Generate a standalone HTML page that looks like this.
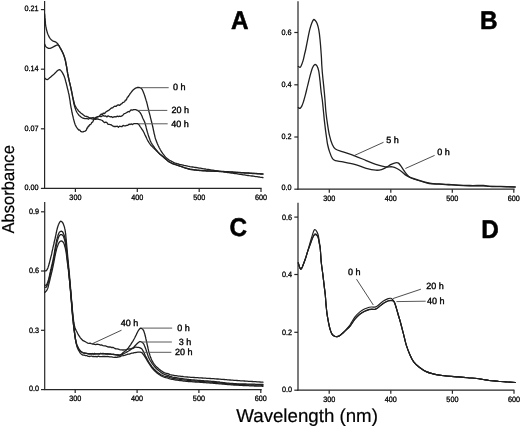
<!DOCTYPE html>
<html><head><meta charset="utf-8"><style>
html,body{margin:0;padding:0;background:#fff;}
svg{display:block;will-change:transform;}
text{font-family:"Liberation Sans",sans-serif;fill:#000;text-rendering:geometricPrecision;}
.t{stroke:#000;stroke-width:0.3px;}
.l{stroke:#000;stroke-width:0.35px;}
.ax{stroke:#000;stroke-width:0.2px;}
</style></head><body>
<svg width="520" height="427" viewBox="0 0 520 427">
<rect width="520" height="427" fill="#fff"/>
<line x1="44.6" y1="1" x2="44.6" y2="188.9" stroke="#262626" stroke-width="1.2"/>
<line x1="44.1" y1="188.4" x2="261.6" y2="188.4" stroke="#262626" stroke-width="1.2"/>
<line x1="40.9" y1="188.4" x2="44.6" y2="188.4" stroke="#262626" stroke-width="1.2"/>
<text class="t" transform="translate(38.50,190.20) scale(0.93,1)" font-size="7.8" text-anchor="end" font-weight="normal">0.00</text>
<line x1="40.9" y1="128.8" x2="44.6" y2="128.8" stroke="#262626" stroke-width="1.2"/>
<text class="t" transform="translate(38.50,130.50) scale(0.93,1)" font-size="7.8" text-anchor="end" font-weight="normal">0.07</text>
<line x1="40.9" y1="69.2" x2="44.6" y2="69.2" stroke="#262626" stroke-width="1.2"/>
<text class="t" transform="translate(38.50,70.90) scale(0.93,1)" font-size="7.8" text-anchor="end" font-weight="normal">0.14</text>
<line x1="40.9" y1="9.6" x2="44.6" y2="9.6" stroke="#262626" stroke-width="1.2"/>
<text class="t" transform="translate(38.50,11.25) scale(0.93,1)" font-size="7.8" text-anchor="end" font-weight="normal">0.21</text>
<line x1="75.4" y1="188.4" x2="75.4" y2="191.9" stroke="#262626" stroke-width="1.2"/>
<text class="t" transform="translate(75.40,199.70) scale(0.93,1)" font-size="7.8" text-anchor="middle" font-weight="normal">300</text>
<line x1="137.3" y1="188.4" x2="137.3" y2="191.9" stroke="#262626" stroke-width="1.2"/>
<text class="t" transform="translate(137.30,199.70) scale(0.93,1)" font-size="7.8" text-anchor="middle" font-weight="normal">400</text>
<line x1="199.2" y1="188.4" x2="199.2" y2="191.9" stroke="#262626" stroke-width="1.2"/>
<text class="t" transform="translate(199.20,199.70) scale(0.93,1)" font-size="7.8" text-anchor="middle" font-weight="normal">500</text>
<line x1="261.0" y1="188.4" x2="261.0" y2="191.9" stroke="#262626" stroke-width="1.2"/>
<text class="t" transform="translate(261.00,199.70) scale(0.93,1)" font-size="7.8" text-anchor="middle" font-weight="normal">600</text>
<line x1="298.0" y1="1.2" x2="298.0" y2="189.7" stroke="#262626" stroke-width="1.2"/>
<line x1="297.5" y1="189.2" x2="514.6" y2="189.2" stroke="#262626" stroke-width="1.2"/>
<line x1="294.3" y1="189.2" x2="298.0" y2="189.2" stroke="#262626" stroke-width="1.2"/>
<text class="t" transform="translate(291.60,190.40) scale(0.93,1)" font-size="7.8" text-anchor="end" font-weight="normal">0.0</text>
<line x1="294.3" y1="137.0" x2="298.0" y2="137.0" stroke="#262626" stroke-width="1.2"/>
<text class="t" transform="translate(291.60,139.15) scale(0.93,1)" font-size="7.8" text-anchor="end" font-weight="normal">0.2</text>
<line x1="294.3" y1="84.8" x2="298.0" y2="84.8" stroke="#262626" stroke-width="1.2"/>
<text class="t" transform="translate(291.60,87.00) scale(0.93,1)" font-size="7.8" text-anchor="end" font-weight="normal">0.4</text>
<line x1="294.3" y1="32.5" x2="298.0" y2="32.5" stroke="#262626" stroke-width="1.2"/>
<text class="t" transform="translate(291.60,34.95) scale(0.93,1)" font-size="7.8" text-anchor="end" font-weight="normal">0.6</text>
<line x1="329.3" y1="189.2" x2="329.3" y2="192.7" stroke="#262626" stroke-width="1.2"/>
<text class="t" transform="translate(329.30,200.50) scale(0.93,1)" font-size="7.8" text-anchor="middle" font-weight="normal">300</text>
<line x1="390.8" y1="189.2" x2="390.8" y2="192.7" stroke="#262626" stroke-width="1.2"/>
<text class="t" transform="translate(390.80,200.50) scale(0.93,1)" font-size="7.8" text-anchor="middle" font-weight="normal">400</text>
<line x1="452.3" y1="189.2" x2="452.3" y2="192.7" stroke="#262626" stroke-width="1.2"/>
<text class="t" transform="translate(452.30,200.50) scale(0.93,1)" font-size="7.8" text-anchor="middle" font-weight="normal">500</text>
<line x1="513.8" y1="189.2" x2="513.8" y2="192.7" stroke="#262626" stroke-width="1.2"/>
<text class="t" transform="translate(513.80,200.50) scale(0.93,1)" font-size="7.8" text-anchor="middle" font-weight="normal">600</text>
<line x1="44.7" y1="202" x2="44.7" y2="390.1" stroke="#262626" stroke-width="1.2"/>
<line x1="44.2" y1="389.6" x2="261.7" y2="389.6" stroke="#262626" stroke-width="1.2"/>
<line x1="41.0" y1="389.6" x2="44.7" y2="389.6" stroke="#262626" stroke-width="1.2"/>
<text class="t" transform="translate(39.10,391.05) scale(0.93,1)" font-size="7.8" text-anchor="end" font-weight="normal">0.0</text>
<line x1="41.0" y1="330.3" x2="44.7" y2="330.3" stroke="#262626" stroke-width="1.2"/>
<text class="t" transform="translate(39.10,332.65) scale(0.93,1)" font-size="7.8" text-anchor="end" font-weight="normal">0.3</text>
<line x1="41.0" y1="271.0" x2="44.7" y2="271.0" stroke="#262626" stroke-width="1.2"/>
<text class="t" transform="translate(39.10,273.15) scale(0.93,1)" font-size="7.8" text-anchor="end" font-weight="normal">0.6</text>
<line x1="41.0" y1="211.8" x2="44.7" y2="211.8" stroke="#262626" stroke-width="1.2"/>
<text class="t" transform="translate(39.10,213.75) scale(0.93,1)" font-size="7.8" text-anchor="end" font-weight="normal">0.9</text>
<line x1="75.2" y1="389.6" x2="75.2" y2="393.1" stroke="#262626" stroke-width="1.2"/>
<text class="t" transform="translate(75.20,400.90) scale(0.93,1)" font-size="7.8" text-anchor="middle" font-weight="normal">300</text>
<line x1="137.1" y1="389.6" x2="137.1" y2="393.1" stroke="#262626" stroke-width="1.2"/>
<text class="t" transform="translate(137.10,400.90) scale(0.93,1)" font-size="7.8" text-anchor="middle" font-weight="normal">400</text>
<line x1="198.9" y1="389.6" x2="198.9" y2="393.1" stroke="#262626" stroke-width="1.2"/>
<text class="t" transform="translate(198.90,400.90) scale(0.93,1)" font-size="7.8" text-anchor="middle" font-weight="normal">500</text>
<line x1="260.8" y1="389.6" x2="260.8" y2="393.1" stroke="#262626" stroke-width="1.2"/>
<text class="t" transform="translate(260.80,400.90) scale(0.93,1)" font-size="7.8" text-anchor="middle" font-weight="normal">600</text>
<line x1="298.0" y1="202.8" x2="298.0" y2="390.7" stroke="#262626" stroke-width="1.2"/>
<line x1="297.5" y1="390.2" x2="514.4" y2="390.2" stroke="#262626" stroke-width="1.2"/>
<line x1="294.3" y1="390.2" x2="298.0" y2="390.2" stroke="#262626" stroke-width="1.2"/>
<text class="t" transform="translate(292.00,392.00) scale(0.93,1)" font-size="7.8" text-anchor="end" font-weight="normal">0.0</text>
<line x1="294.3" y1="332.3" x2="298.0" y2="332.3" stroke="#262626" stroke-width="1.2"/>
<text class="t" transform="translate(292.00,334.65) scale(0.93,1)" font-size="7.8" text-anchor="end" font-weight="normal">0.2</text>
<line x1="294.3" y1="274.5" x2="298.0" y2="274.5" stroke="#262626" stroke-width="1.2"/>
<text class="t" transform="translate(292.00,276.85) scale(0.93,1)" font-size="7.8" text-anchor="end" font-weight="normal">0.4</text>
<line x1="294.3" y1="217.1" x2="298.0" y2="217.1" stroke="#262626" stroke-width="1.2"/>
<text class="t" transform="translate(292.00,219.50) scale(0.93,1)" font-size="7.8" text-anchor="end" font-weight="normal">0.6</text>
<line x1="329.2" y1="390.2" x2="329.2" y2="393.7" stroke="#262626" stroke-width="1.2"/>
<text class="t" transform="translate(329.20,401.50) scale(0.93,1)" font-size="7.8" text-anchor="middle" font-weight="normal">300</text>
<line x1="390.8" y1="390.2" x2="390.8" y2="393.7" stroke="#262626" stroke-width="1.2"/>
<text class="t" transform="translate(390.80,401.50) scale(0.93,1)" font-size="7.8" text-anchor="middle" font-weight="normal">400</text>
<line x1="452.4" y1="390.2" x2="452.4" y2="393.7" stroke="#262626" stroke-width="1.2"/>
<text class="t" transform="translate(452.40,401.50) scale(0.93,1)" font-size="7.8" text-anchor="middle" font-weight="normal">500</text>
<line x1="514.0" y1="390.2" x2="514.0" y2="393.7" stroke="#262626" stroke-width="1.2"/>
<text class="t" transform="translate(514.00,401.50) scale(0.93,1)" font-size="7.8" text-anchor="middle" font-weight="normal">600</text>
<text transform="translate(231.0,28.6) scale(0.95,1)" font-size="25.6" font-weight="bold" stroke="#000" stroke-width="0.55" stroke-linejoin="round">A</text>
<text transform="translate(480.1,29.3) scale(0.95,1)" font-size="25.6" font-weight="bold" stroke="#000" stroke-width="0.55" stroke-linejoin="round">B</text>
<text transform="translate(229.5,236.4) scale(0.95,1)" font-size="25.6" font-weight="bold" stroke="#000" stroke-width="0.55" stroke-linejoin="round">C</text>
<text transform="translate(481.2,237.6) scale(0.95,1)" font-size="25.6" font-weight="bold" stroke="#000" stroke-width="0.55" stroke-linejoin="round">D</text>
<text x="0" y="0" font-size="17.2" class="ax" transform="translate(14.0,233.5) rotate(-90) scale(0.963,1)">Absorbance</text>
<text x="236.3" y="422.0" font-size="18.7" text-anchor="start" font-weight="normal" class="ax">Wavelength (nm)</text>
<path d="M44.6,78.1 L46.0,79.3 L47.6,79.5 L48.4,79.0 L49.3,78.1 L50.4,77.2 L51.3,76.4 L52.3,75.5 L53.3,74.7 L54.2,73.9 L55.4,72.7 L56.5,71.6 L57.4,70.8 L58.4,70.0 L59.3,69.7 L60.5,70.2 L61.7,71.6 L62.2,72.4 L62.8,73.4 L63.4,74.6 L64.0,75.8 L64.5,77.2 L64.9,78.2 L65.2,79.3 L65.5,80.5 L65.8,81.7 L66.2,83.0 L66.5,84.3 L66.8,85.6 L67.1,86.7 L67.3,87.8 L67.6,88.9 L67.9,90.0 L68.2,91.2 L68.4,92.4 L68.7,93.5 L69.0,94.7 L69.2,95.9 L69.4,97.1 L69.6,98.3 L69.8,99.5 L70.0,100.7 L70.2,101.9 L70.3,103.1 L70.5,104.3 L70.7,105.5 L70.9,106.6 L71.1,107.8 L71.4,109.0 L71.6,110.2 L71.8,111.4 L72.0,112.5 L72.3,113.7 L72.5,114.8 L72.8,115.9 L73.1,117.0 L73.3,118.2 L73.6,119.3 L73.9,120.4 L74.2,121.5 L74.5,122.6 L74.8,123.5 L75.1,124.4 L75.8,125.9 L76.5,127.1 L77.2,128.1 L77.9,129.0 L78.8,130.1 L79.8,130.0 L80.7,131.3 L81.9,131.8 L83.1,131.8 L84.1,131.4 L85.3,131.1 L86.4,130.1 L87.0,128.0 L87.6,128.0 L88.2,126.2 L88.9,126.3 L89.6,124.7 L90.3,124.7 L91.1,123.9 L91.9,122.3 L92.7,122.1 L93.5,120.2 L94.2,119.2 L95.4,119.0 L96.5,117.5 L97.7,117.0 L98.5,116.7 L99.4,116.3 L100.3,114.9 L101.3,114.0 L102.3,114.6 L103.2,113.1 L104.2,113.6 L105.2,112.9 L106.2,111.6 L107.2,111.1 L108.1,110.6 L109.1,110.1 L110.0,109.3 L110.9,108.4 L111.8,107.9 L112.7,107.8 L113.9,106.6 L115.0,106.2 L116.2,106.3 L117.3,105.2 L118.5,104.9 L119.7,105.4 L120.8,104.2 L121.9,103.7 L122.9,102.3 L123.7,102.3 L124.6,101.8 L125.4,100.1 L126.1,100.1 L126.7,99.1 L127.4,97.1 L128.1,96.9 L128.8,95.6 L129.4,94.8 L130.1,93.7 L130.8,92.8 L131.5,91.9 L132.2,91.0 L132.8,90.3 L134.0,89.2 L135.2,88.4 L136.3,87.8 L137.5,87.5 L138.7,87.5 L139.7,87.6 L140.8,88.0 L141.7,88.8 L142.3,89.7 L142.9,91.0 L143.5,92.4 L143.9,93.4 L144.3,94.6 L144.7,95.8 L145.1,97.0 L145.4,98.1 L145.8,99.3 L146.1,100.4 L146.5,101.5 L146.8,102.7 L147.1,103.8 L147.4,104.9 L147.6,106.1 L147.9,107.2 L148.2,108.4 L148.5,109.5 L148.8,110.6 L149.0,111.8 L149.3,112.9 L149.6,114.0 L149.9,115.1 L150.2,116.2 L150.4,117.3 L150.7,118.4 L151.0,119.6 L151.3,120.8 L151.6,122.0 L151.9,123.2 L152.2,124.4 L152.5,125.7 L152.7,126.8 L153.0,127.8 L153.2,128.9 L153.4,130.0 L153.7,131.1 L153.9,132.2 L154.1,133.3 L154.4,134.4 L154.7,135.5 L154.9,136.6 L155.2,137.7 L155.5,138.7 L155.9,139.9 L156.3,141.1 L156.8,142.2 L157.2,143.3 L157.7,144.4 L158.2,145.5 L158.7,146.5 L159.1,147.5 L159.7,148.5 L160.2,149.5 L160.8,150.5 L161.3,151.5 L162.0,152.4 L162.6,153.3 L163.2,154.2 L164.0,155.2 L164.8,156.2 L165.6,157.1 L166.5,158.0 L167.5,158.8 L168.5,159.5 L169.5,160.2 L170.6,160.8 L171.7,161.4 L172.9,162.0 L174.0,162.6 L175.3,163.1 L176.3,163.4 L177.3,163.7 L178.4,164.0 L179.5,164.3 L180.9,164.6 L181.9,164.8 L183.0,165.1 L184.1,165.4 L185.4,165.6 L186.6,165.9 L187.8,166.2 L188.9,166.4 L190.0,166.6 L191.3,166.8 L192.5,167.0 L193.6,167.2 L194.7,167.4 L195.8,167.5 L197.0,167.7 L198.1,167.9 L199.2,168.1 L200.3,168.2 L201.4,168.4 L202.6,168.6 L203.8,168.8 L205.0,169.0 L206.1,169.2 L207.2,169.3 L208.3,169.5 L209.5,169.7 L210.7,169.9 L211.8,170.1 L212.9,170.2 L214.0,170.4 L215.1,170.6 L216.1,170.7 L217.0,170.8 L217.9,171.0 L219.0,171.2 L220.3,171.4 L222.0,171.6 L222.8,171.7 L223.7,171.9 L224.7,172.0 L225.7,172.2 L226.7,172.3 L227.8,172.5 L228.9,172.6 L230.1,172.8 L231.2,173.0 L232.4,173.2 L233.7,173.4 L234.9,173.5 L236.2,173.7 L237.4,173.9 L238.7,174.1 L240.0,174.3 L241.0,174.4 L242.1,174.6 L243.2,174.8 L244.4,174.9 L245.6,175.1 L246.9,175.3 L248.1,175.5 L249.4,175.7 L250.7,175.8 L252.0,176.0 L253.3,176.2 L254.5,176.4 L255.7,176.6 L256.9,176.7 L258.0,176.9 L259.0,177.0 L260.0,177.2 L260.9,177.3 L261.7,177.4 L262.4,177.5 L263.0,177.6" fill="none" stroke="#202020" stroke-width="1.3" stroke-linejoin="round" stroke-linecap="round"/>
<path d="M44.6,14.0 L44.7,14.8 L44.8,16.0 L44.9,17.4 L45.1,18.8 L45.2,20.0 L45.3,21.3 L45.4,22.5 L45.4,23.7 L45.6,25.0 L45.8,26.2 L46.1,27.5 L46.3,28.8 L46.6,30.0 L46.9,31.1 L47.3,32.5 L47.6,33.5 L48.1,34.7 L48.6,35.8 L49.1,36.9 L49.8,38.0 L50.4,38.9 L51.3,39.8 L52.2,40.5 L53.2,41.1 L54.7,41.7 L56.0,42.2 L56.9,42.9 L57.9,44.0 L58.5,45.0 L59.3,46.2 L60.0,47.5 L60.7,48.7 L61.3,49.9 L62.0,51.0 L62.5,52.2 L63.1,53.4 L63.5,54.4 L63.9,55.5 L64.3,56.6 L64.7,57.8 L65.0,59.0 L65.3,60.0 L65.5,61.0 L65.7,62.0 L65.9,63.1 L66.1,64.3 L66.4,65.6 L66.6,66.6 L66.8,67.7 L66.9,68.8 L67.1,69.9 L67.3,71.2 L67.5,72.4 L67.7,73.7 L68.0,74.9 L68.2,76.2 L68.4,77.3 L68.7,78.3 L68.9,79.4 L69.2,80.6 L69.4,81.7 L69.7,82.8 L70.0,84.0 L70.2,85.1 L70.5,86.2 L70.8,87.3 L71.0,88.4 L71.3,89.6 L71.5,90.8 L71.8,92.0 L72.0,93.2 L72.3,94.4 L72.5,95.6 L72.7,96.7 L73.0,97.8 L73.2,98.8 L73.4,99.7 L73.8,101.2 L74.0,102.5 L74.3,103.5 L74.6,104.5 L75.1,105.6 L75.6,106.6 L76.2,107.6 L76.8,108.5 L77.5,109.5 L78.2,110.4 L78.9,111.2 L79.8,112.1 L80.8,113.0 L81.8,113.7 L82.8,114.4 L83.5,115.0 L85.0,116.2 L85.9,116.3 L87.0,116.5 L88.3,117.1 L89.6,118.3 L90.8,117.9 L91.9,117.9 L93.1,117.5 L94.2,118.5 L95.4,117.6 L96.5,117.1 L97.7,116.7 L98.8,116.4 L100.0,116.3 L101.1,116.7 L102.3,115.8 L103.5,115.6 L104.6,116.2 L105.8,115.9 L106.9,116.9 L108.1,115.8 L109.2,116.4 L110.4,116.9 L111.5,116.6 L112.7,117.5 L113.8,116.9 L115.0,116.6 L116.1,116.8 L117.3,116.2 L118.4,116.6 L119.6,116.1 L120.8,116.5 L121.9,115.9 L123.1,114.9 L124.2,113.6 L125.4,113.3 L126.4,112.7 L127.4,112.1 L128.4,111.5 L129.4,111.8 L130.4,110.3 L131.2,109.9 L132.5,110.2 L133.6,109.7 L134.6,109.6 L135.7,109.7 L136.8,110.1 L137.9,110.6 L138.9,111.4 L139.9,112.4 L140.7,113.5 L141.2,114.5 L141.7,115.5 L142.2,116.6 L142.6,117.7 L143.2,119.0 L143.8,120.2 L144.4,121.5 L144.9,122.8 L145.3,124.0 L145.7,125.6 L146.0,126.6 L146.2,127.7 L146.5,128.8 L146.8,130.0 L147.1,131.1 L147.4,132.2 L147.8,133.4 L148.1,134.6 L148.5,135.7 L148.8,136.8 L149.2,137.8 L149.7,139.1 L150.1,140.3 L150.6,141.4 L151.1,142.5 L151.7,143.5 L152.2,144.4 L152.9,145.3 L153.5,146.2 L154.2,147.1 L154.8,148.1 L155.6,149.1 L156.3,150.0 L157.1,150.9 L157.9,151.9 L158.7,152.8 L159.6,153.7 L160.5,154.5 L161.5,155.3 L162.4,156.1 L163.3,156.8 L164.4,157.8 L165.5,158.7 L166.5,159.6 L167.4,160.4 L168.4,161.2 L169.5,162.0 L170.6,162.5 L171.7,163.1 L173.0,163.6 L174.4,164.1 L175.4,164.5 L176.4,164.8 L177.4,165.2 L178.5,165.5 L179.6,165.9 L180.9,166.3 L181.9,166.6 L182.9,167.0 L184.0,167.4 L185.1,167.8 L186.3,168.1 L187.5,168.5 L188.7,168.8 L190.0,169.1 L191.1,169.3 L192.2,169.5 L193.4,169.7 L194.6,169.8 L195.9,169.9 L197.1,170.1 L198.4,170.2 L199.6,170.3 L200.8,170.4 L201.9,170.5 L203.1,170.6 L204.3,170.7 L205.4,170.7 L206.5,170.8 L207.6,170.8 L208.7,170.9 L209.8,170.9 L210.9,171.0 L212.0,171.0 L213.1,171.0 L214.1,171.1 L215.0,171.1 L216.0,171.1 L217.0,171.2 L218.1,171.2 L219.2,171.3 L220.5,171.3 L222.0,171.4 L222.9,171.4 L223.8,171.5 L224.8,171.6 L225.8,171.6 L226.9,171.7 L227.9,171.7 L229.1,171.8 L230.2,171.9 L231.3,172.0 L232.5,172.0 L233.7,172.1 L235.0,172.2 L236.2,172.3 L237.5,172.3 L238.7,172.4 L240.0,172.5 L241.1,172.6 L242.2,172.6 L243.4,172.7 L244.6,172.8 L245.9,172.9 L247.3,172.9 L248.6,173.0 L249.9,173.1 L251.3,173.2 L252.6,173.3 L253.9,173.3 L255.2,173.4 L256.5,173.5 L257.6,173.6 L258.8,173.6 L259.8,173.7 L260.7,173.8 L261.6,173.8 L262.4,173.9 L263.0,173.9" fill="none" stroke="#202020" stroke-width="1.3" stroke-linejoin="round" stroke-linecap="round"/>
<path d="M44.6,44.0 L45.0,45.1 L45.7,46.4 L46.5,47.2 L47.6,47.9 L48.6,48.3 L50.0,48.3 L51.4,47.8 L52.8,47.2 L54.2,46.4 L55.7,45.6 L57.0,45.0 L58.5,45.2 L59.2,46.1 L59.9,47.5 L60.7,48.9 L61.3,50.0 L61.9,51.1 L62.5,52.3 L63.1,53.6 L63.5,54.6 L63.9,55.7 L64.3,56.8 L64.7,58.0 L65.0,59.2 L65.3,60.2 L65.5,61.2 L65.7,62.2 L65.9,63.3 L66.1,64.5 L66.4,65.8 L66.6,66.8 L66.8,67.9 L66.9,69.0 L67.1,70.1 L67.3,71.4 L67.5,72.6 L67.7,73.9 L68.0,75.1 L68.2,76.4 L68.4,77.5 L68.7,78.5 L68.9,79.6 L69.2,80.8 L69.4,81.9 L69.7,83.0 L70.0,84.2 L70.3,85.3 L70.5,86.4 L70.8,87.5 L71.0,88.6 L71.2,89.8 L71.5,91.0 L71.7,92.2 L72.0,93.5 L72.2,94.7 L72.4,95.9 L72.6,97.0 L72.8,98.1 L73.0,99.1 L73.2,100.0 L73.5,101.5 L73.7,102.8 L73.9,103.8 L74.2,104.9 L74.5,106.0 L74.8,107.1 L75.2,108.2 L75.6,109.4 L76.0,110.5 L76.5,111.5 L77.0,112.5 L77.7,113.5 L78.4,114.5 L79.1,115.4 L79.9,116.1 L80.7,116.8 L81.7,117.5 L82.7,118.0 L83.8,118.3 L85.0,118.6 L86.1,118.7 L87.2,118.5 L88.4,119.2 L89.6,118.2 L90.8,118.5 L91.9,118.8 L93.1,119.2 L94.2,118.5 L95.4,119.3 L96.5,119.0 L97.7,118.9 L98.8,119.3 L100.0,119.6 L101.1,120.0 L102.3,120.5 L103.5,121.8 L104.6,122.7 L105.8,122.2 L106.9,122.7 L108.1,124.4 L109.2,124.4 L110.4,124.7 L111.5,125.0 L112.7,125.9 L113.8,126.5 L115.0,126.3 L116.1,126.5 L117.3,126.1 L118.4,127.3 L119.6,126.1 L120.8,126.5 L121.9,126.7 L123.1,125.4 L124.2,125.9 L125.4,125.9 L126.6,125.3 L127.8,125.3 L129.0,124.2 L130.1,124.5 L131.2,123.9 L132.5,124.6 L133.7,123.7 L134.8,123.7 L135.8,123.6 L137.3,123.6 L138.5,124.2 L139.3,125.1 L140.0,126.3 L140.8,127.5 L141.4,128.4 L142.0,129.3 L142.6,130.2 L143.2,131.2 L143.8,132.3 L144.4,133.5 L144.9,134.7 L145.5,135.9 L146.1,137.1 L146.6,138.3 L147.2,139.5 L147.8,140.6 L148.4,141.6 L149.0,142.6 L149.6,143.5 L150.2,144.4 L151.1,145.5 L152.0,146.4 L153.0,147.4 L154.0,148.3 L154.9,149.3 L156.0,150.3 L156.9,151.2 L157.8,152.1 L158.7,153.0 L159.6,153.9 L160.5,154.7 L161.5,155.5 L162.4,156.3 L163.3,157.0 L164.4,158.0 L165.5,158.9 L166.5,159.8 L167.4,160.6 L168.4,161.4 L169.5,162.2 L170.6,162.7 L171.7,163.3 L173.0,163.8 L174.4,164.3 L175.4,164.7 L176.4,165.0 L177.4,165.4 L178.5,165.7 L179.6,166.1 L180.9,166.5 L181.9,166.8 L182.9,167.2 L184.0,167.6 L185.1,168.0 L186.3,168.3 L187.5,168.7 L188.7,169.0 L190.0,169.3 L191.1,169.5 L192.2,169.7 L193.4,169.9 L194.6,170.0 L195.9,170.1 L197.1,170.3 L198.4,170.4 L199.6,170.5 L200.8,170.6 L201.9,170.7 L203.1,170.8 L204.3,170.9 L205.4,170.9 L206.5,171.0 L207.6,171.0 L208.7,171.1 L209.8,171.1 L210.9,171.2 L212.0,171.2 L213.1,171.2 L214.1,171.3 L215.0,171.3 L216.0,171.3 L217.0,171.4 L218.1,171.4 L219.2,171.5 L220.5,171.5 L222.0,171.6 L222.9,171.6 L223.8,171.7 L224.8,171.8 L225.8,171.8 L226.9,171.9 L227.9,171.9 L229.1,172.0 L230.2,172.1 L231.3,172.2 L232.5,172.2 L233.7,172.3 L235.0,172.4 L236.2,172.5 L237.5,172.5 L238.7,172.6 L240.0,172.7 L241.1,172.8 L242.2,172.8 L243.4,172.9 L244.6,173.0 L245.9,173.1 L247.3,173.1 L248.6,173.2 L249.9,173.3 L251.3,173.4 L252.6,173.5 L253.9,173.5 L255.2,173.6 L256.5,173.7 L257.6,173.8 L258.8,173.8 L259.8,173.9 L260.7,174.0 L261.6,174.0 L262.4,174.1 L263.0,174.1" fill="none" stroke="#202020" stroke-width="1.3" stroke-linejoin="round" stroke-linecap="round"/>
<path d="M298.3,66.5 C298.6,66.6 299.6,67.5 300.1,67.3 C300.6,67.1 300.8,66.6 301.3,65.5 C301.8,64.4 302.4,62.8 303.0,60.9 C303.6,59.0 304.2,55.8 304.6,54.0 C305.0,52.2 305.1,52.5 305.6,50.0 C306.1,47.5 307.0,42.8 307.7,39.3 C308.4,35.8 309.3,31.4 310.0,28.7 C310.7,26.0 311.2,24.4 311.8,22.9 C312.4,21.4 313.0,20.0 313.6,19.6 C314.2,19.2 314.7,19.9 315.3,20.5 C315.9,21.1 316.5,21.9 317.1,23.5 C317.7,25.1 318.3,27.3 318.8,29.9 C319.3,32.5 319.7,36.2 320.0,39.3 C320.3,42.4 320.6,45.6 320.8,48.6 C321.0,51.6 321.2,54.0 321.4,57.0 C321.6,60.0 321.6,63.1 321.9,66.7 C322.1,70.3 322.5,74.5 322.9,78.4 C323.3,82.3 323.8,86.5 324.1,90.1 C324.5,93.7 324.7,96.4 325.0,100.0 C325.3,103.6 325.5,107.8 325.9,111.7 C326.3,115.6 326.8,119.5 327.4,123.4 C328.0,127.3 328.6,131.6 329.4,135.1 C330.2,138.6 331.3,142.2 332.3,144.5 C333.3,146.8 333.6,147.8 335.4,149.0 C337.2,150.2 339.9,150.8 343.1,151.9 C346.3,153.0 350.8,154.4 354.6,155.8 C358.5,157.2 362.7,159.2 366.2,160.6 C369.7,162.0 372.6,163.3 375.8,164.4 C379.0,165.5 382.6,166.5 385.4,166.9 C388.1,167.3 390.4,166.5 392.3,166.8 C394.2,167.1 395.4,167.7 396.9,168.5 C398.4,169.3 399.9,170.3 401.5,171.5 C403.1,172.7 404.6,174.4 406.2,175.4 C407.8,176.4 408.5,176.8 410.8,177.7 C413.1,178.6 416.7,179.7 420.0,180.6 C423.3,181.5 427.4,182.8 430.6,183.3 C433.8,183.9 436.2,183.7 439.2,183.9 C442.2,184.1 445.6,184.3 448.8,184.5 C452.0,184.7 455.0,184.9 458.5,185.1 C462.0,185.3 465.8,185.4 470.0,185.5 C474.2,185.6 480.3,185.4 483.5,185.5 C486.7,185.6 486.3,185.9 489.2,186.1 C492.1,186.2 496.5,186.3 500.8,186.4 C505.1,186.5 512.8,186.7 515.2,186.8" fill="none" stroke="#202020" stroke-width="1.3" stroke-linejoin="round" stroke-linecap="round"/>
<path d="M298.3,107.6 C298.6,107.7 299.5,108.7 300.1,108.4 C300.7,108.1 301.3,107.1 301.9,105.9 C302.5,104.7 303.0,103.1 303.6,101.2 C304.2,99.3 304.7,97.4 305.4,94.8 C306.1,92.2 306.9,88.5 307.7,85.4 C308.5,82.3 309.2,79.0 310.0,76.1 C310.8,73.2 311.6,69.8 312.4,67.9 C313.2,66.0 313.9,64.9 314.7,64.6 C315.5,64.3 316.4,65.0 317.1,66.1 C317.8,67.2 318.3,69.0 318.8,71.4 C319.3,73.9 319.6,77.3 320.0,80.8 C320.4,84.3 320.8,89.3 321.2,92.5 C321.6,95.7 321.9,96.8 322.3,100.0 C322.7,103.2 323.1,107.8 323.5,111.7 C323.9,115.6 324.2,119.5 324.7,123.4 C325.1,127.3 325.7,131.6 326.2,135.1 C326.7,138.6 327.0,141.7 327.6,144.5 C328.2,147.3 328.8,149.5 329.6,151.9 C330.4,154.3 331.5,157.2 332.5,158.7 C333.5,160.1 333.6,160.1 335.4,160.6 C337.2,161.1 339.9,161.3 343.1,161.9 C346.3,162.5 350.8,163.3 354.6,164.4 C358.5,165.5 362.7,167.3 366.2,168.3 C369.7,169.3 373.2,170.0 375.8,170.2 C378.4,170.4 379.8,170.1 381.5,169.6 C383.2,169.1 384.7,168.2 386.3,167.3 C387.9,166.4 389.7,165.2 391.2,164.4 C392.7,163.7 394.2,163.0 395.4,162.8 C396.6,162.6 397.5,162.4 398.5,163.1 C399.5,163.8 400.5,165.5 401.5,166.9 C402.5,168.3 403.4,169.9 404.6,171.5 C405.8,173.1 407.2,175.0 408.5,176.2 C409.8,177.4 410.4,177.7 412.3,178.5 C414.2,179.3 417.2,180.2 420.0,181.0 C422.8,181.8 426.0,183.0 429.2,183.5 C432.4,184.0 435.9,184.0 439.2,184.2 C442.5,184.4 445.6,184.6 448.8,184.8 C452.0,185.0 455.0,185.2 458.5,185.4 C462.0,185.6 465.8,185.7 470.0,185.8 C474.2,185.9 480.3,185.7 483.5,185.8 C486.7,185.9 486.3,186.2 489.2,186.4 C492.1,186.6 496.5,186.6 500.8,186.7 C505.1,186.8 512.8,187.0 515.2,187.1" fill="none" stroke="#202020" stroke-width="1.3" stroke-linejoin="round" stroke-linecap="round"/>
<path d="M44.6,270.8 L46.1,270.8 L46.7,270.2 L47.3,269.2 L47.9,267.9 L48.2,266.9 L48.6,265.8 L48.9,264.6 L49.3,263.3 L49.6,262.0 L49.9,260.9 L50.2,259.7 L50.5,258.5 L50.8,257.2 L51.1,256.1 L51.4,255.0 L51.7,253.7 L51.9,252.6 L52.1,251.4 L52.5,249.8 L52.7,248.9 L52.9,247.8 L53.2,246.7 L53.5,245.5 L53.8,244.3 L54.1,243.0 L54.3,241.7 L54.6,240.5 L54.9,239.3 L55.2,238.1 L55.4,236.8 L55.7,235.6 L56.0,234.3 L56.2,233.0 L56.5,231.8 L56.7,230.7 L57.0,229.6 L57.2,228.7 L57.6,227.3 L58.0,226.1 L58.3,225.1 L58.7,224.3 L59.0,223.5 L59.9,221.9 L60.7,221.1 L62.5,222.3 L62.9,223.1 L63.4,224.1 L63.8,225.2 L64.2,226.4 L64.5,227.4 L64.7,228.4 L65.0,229.5 L65.2,230.8 L65.4,232.2 L65.5,233.2 L65.7,234.3 L65.8,235.5 L65.9,236.8 L66.0,238.1 L66.2,239.4 L66.3,240.7 L66.4,242.0 L66.5,243.0 L66.6,244.1 L66.7,245.2 L66.8,246.3 L66.9,247.4 L67.0,248.5 L67.1,249.6 L67.2,250.7 L67.3,251.9 L67.4,253.0 L67.5,254.2 L67.6,255.3 L67.7,256.5 L67.8,257.7 L67.9,258.9 L68.0,260.1 L68.2,261.3 L68.3,262.5 L68.4,263.8 L68.5,265.0 L68.6,266.1 L68.7,267.3 L68.8,268.5 L68.9,269.7 L69.0,270.8 L69.2,272.0 L69.3,273.2 L69.4,274.4 L69.5,275.6 L69.6,276.8 L69.7,278.0 L69.8,279.2 L69.9,280.4 L70.0,281.6 L70.1,282.8 L70.2,284.0 L70.3,285.2 L70.4,286.3 L70.5,287.5 L70.6,288.7 L70.7,289.9 L70.8,291.0 L70.9,292.2 L71.0,293.5 L71.1,294.7 L71.2,295.9 L71.3,297.1 L71.4,298.3 L71.5,299.5 L71.6,300.7 L71.7,301.8 L71.8,303.0 L71.9,304.1 L72.0,305.3 L72.1,306.4 L72.2,307.5 L72.3,308.7 L72.4,309.8 L72.5,310.8 L72.6,311.9 L72.7,313.0 L72.8,314.0 L72.9,315.3 L73.1,316.6 L73.2,317.9 L73.4,319.1 L73.5,320.3 L73.7,321.5 L73.8,322.5 L74.0,323.5 L74.3,325.1 L74.6,326.3 L74.9,327.4 L75.3,328.5 L75.7,329.6 L76.2,330.6 L76.7,331.5 L77.2,332.5 L77.7,333.5 L78.3,334.6 L78.9,335.7 L79.6,336.7 L80.4,337.8 L81.2,338.8 L82.1,339.7 L83.1,340.7 L84.2,341.1 L85.4,341.8 L86.6,342.5 L87.8,343.1 L89.0,343.3 L90.1,343.1 L91.2,343.6 L92.4,344.0 L93.5,344.0 L94.7,344.3 L95.8,344.6 L97.1,344.2 L98.2,344.4 L99.4,344.7 L100.6,345.2 L101.8,345.0 L103.0,345.6 L104.2,345.8 L105.4,345.9 L106.6,346.3 L107.7,346.9 L108.7,347.0 L110.1,346.9 L111.3,347.5 L112.7,347.3 L113.7,347.7 L114.9,348.5 L116.1,348.8 L117.3,348.8 L118.3,349.1 L119.6,349.6 L120.8,349.9 L122.0,349.8 L123.0,350.0 L124.1,349.9 L125.3,349.8 L126.5,349.6 L127.8,349.2 L129.2,349.0 L130.6,348.8 L131.9,348.5 L133.3,348.3 L134.6,347.4 L135.8,347.0 L137.1,347.4 L138.5,347.3 L139.6,347.6 L141.5,348.6 L142.4,349.7 L143.2,351.1 L143.8,352.2 L144.4,353.5 L145.0,354.9 L145.5,356.0 L146.1,357.2 L146.8,358.4 L147.4,359.6 L148.1,360.8 L148.7,361.9 L149.4,363.0 L150.2,364.2 L150.9,365.1 L151.6,366.1 L152.3,367.1 L153.1,368.0 L153.9,368.9 L154.8,369.8 L155.7,370.7 L156.7,371.6 L157.7,372.4 L158.6,373.1 L159.7,373.9 L160.8,374.6 L161.9,375.2 L163.0,375.7 L164.2,376.1 L165.5,376.3 L166.8,376.5 L168.0,376.8 L169.1,377.2 L170.0,377.6 L172.0,378.1 L172.8,378.3 L173.8,378.4 L174.9,378.6 L176.0,378.8 L177.2,379.0 L178.5,379.2 L179.8,379.4 L181.1,379.6 L182.5,379.8 L183.7,379.9 L185.0,380.1 L186.1,380.2 L187.3,380.3 L188.4,380.5 L189.5,380.6 L190.7,380.7 L191.8,380.8 L193.0,380.8 L194.1,380.9 L195.3,381.0 L196.5,381.1 L197.8,381.2 L199.0,381.3 L200.1,381.4 L201.2,381.5 L202.2,381.5 L203.3,381.6 L204.4,381.7 L205.6,381.8 L206.7,381.9 L207.8,381.9 L209.0,382.0 L210.2,382.1 L211.3,382.2 L212.5,382.3 L213.8,382.4 L215.0,382.5 L216.0,382.6 L217.0,382.7 L218.0,382.8 L219.1,382.9 L220.1,383.0 L221.1,383.1 L222.1,383.2 L223.2,383.4 L224.2,383.5 L225.3,383.6 L226.4,383.7 L227.6,383.8 L228.8,383.9 L230.0,384.0 L231.3,384.1 L232.6,384.2 L234.0,384.3 L235.0,384.4 L236.0,384.4 L237.1,384.5 L238.2,384.5 L239.4,384.6 L240.6,384.6 L241.9,384.7 L243.1,384.7 L244.4,384.7 L245.7,384.8 L247.1,384.8 L248.4,384.9 L249.7,384.9 L251.0,385.0 L252.3,385.0 L253.5,385.0 L254.7,385.1 L255.9,385.1 L257.0,385.1 L258.1,385.2 L259.1,385.2 L260.0,385.2 L260.9,385.2 L261.7,385.3 L262.4,385.3 L263.0,385.3" fill="none" stroke="#202020" stroke-width="1.3" stroke-linejoin="round" stroke-linecap="round"/>
<path d="M44.6,285.0 L46.0,285.5 L46.4,284.9 L46.9,284.0 L47.4,282.8 L47.9,281.5 L48.4,280.0 L48.7,279.0 L48.9,278.0 L49.2,276.8 L49.5,275.6 L49.7,274.4 L50.0,273.1 L50.3,271.9 L50.5,270.7 L50.8,269.5 L51.1,268.4 L51.3,267.3 L51.6,266.2 L51.9,265.1 L52.1,264.1 L52.4,263.0 L52.6,261.9 L52.9,260.8 L53.1,259.7 L53.3,258.6 L53.5,257.4 L53.8,256.2 L54.0,255.0 L54.2,253.8 L54.4,252.6 L54.6,251.4 L54.8,250.2 L55.0,249.0 L55.2,247.9 L55.4,246.7 L55.6,245.6 L55.9,244.4 L56.1,243.2 L56.3,242.1 L56.5,240.9 L56.7,239.9 L57.0,238.9 L57.2,238.0 L57.7,236.4 L58.1,235.0 L58.6,233.8 L59.1,232.8 L59.5,232.0 L61.3,231.1 L62.2,231.5 L63.0,232.5 L63.4,233.4 L63.9,234.5 L64.3,235.7 L64.7,237.0 L65.0,238.1 L65.2,239.1 L65.4,240.3 L65.6,241.6 L65.8,243.0 L65.9,244.0 L66.1,245.0 L66.2,246.1 L66.3,247.2 L66.4,248.3 L66.5,249.5 L66.7,250.8 L66.8,252.0 L66.9,253.0 L67.0,254.0 L67.1,255.1 L67.3,256.2 L67.4,257.2 L67.5,258.4 L67.6,259.5 L67.8,260.6 L67.9,261.8 L68.0,263.0 L68.1,264.1 L68.2,265.2 L68.3,266.4 L68.4,267.6 L68.6,268.8 L68.7,270.0 L68.8,271.2 L68.9,272.4 L69.0,273.6 L69.1,274.8 L69.2,276.0 L69.3,277.2 L69.4,278.4 L69.5,279.6 L69.6,280.8 L69.7,282.0 L69.8,283.2 L69.9,284.3 L70.0,285.5 L70.1,286.7 L70.2,287.9 L70.3,289.0 L70.4,290.2 L70.5,291.5 L70.6,292.7 L70.7,293.9 L70.8,295.1 L70.9,296.3 L71.0,297.5 L71.1,298.7 L71.2,299.8 L71.3,301.0 L71.4,302.1 L71.5,303.3 L71.6,304.4 L71.7,305.5 L71.8,306.6 L71.8,307.7 L71.9,308.8 L72.0,309.9 L72.1,310.9 L72.2,312.0 L72.3,313.1 L72.4,314.3 L72.5,315.4 L72.6,316.5 L72.7,317.5 L72.8,318.6 L73.0,319.7 L73.1,320.9 L73.2,322.0 L73.3,323.1 L73.4,324.2 L73.6,325.3 L73.7,326.4 L73.8,327.6 L74.0,328.7 L74.1,329.8 L74.2,330.9 L74.4,332.0 L74.5,333.0 L74.7,334.2 L74.8,335.5 L75.0,336.6 L75.2,337.8 L75.4,338.9 L75.6,340.0 L75.8,341.0 L76.0,342.0 L76.3,343.2 L76.7,344.4 L77.1,345.4 L77.5,346.4 L78.0,347.3 L78.4,348.2 L79.1,349.3 L79.7,350.3 L80.5,351.1 L81.3,351.7 L82.5,352.5 L83.9,353.0 L85.4,353.2 L86.4,353.3 L87.4,353.6 L88.4,354.0 L89.7,353.8 L91.3,354.1 L92.2,353.5 L93.3,354.1 L94.5,354.1 L95.7,353.8 L97.0,353.8 L98.2,353.8 L99.5,354.0 L100.7,353.5 L101.9,353.9 L103.0,353.8 L104.3,353.7 L105.5,354.0 L106.8,354.0 L107.9,353.7 L109.1,354.1 L110.1,354.0 L111.1,354.1 L112.0,354.3 L113.5,354.1 L114.7,354.6 L115.7,354.6 L116.7,355.0 L118.0,354.7 L119.2,355.1 L120.4,354.7 L121.3,354.2 L122.3,353.7 L123.2,352.5 L124.2,351.9 L125.2,351.1 L126.1,350.2 L127.1,349.2 L128.1,348.1 L128.7,347.3 L129.4,346.4 L130.1,345.5 L130.7,344.6 L131.3,343.6 L131.9,342.7 L132.6,341.6 L133.2,340.6 L133.8,339.5 L134.4,338.5 L135.0,337.3 L135.5,336.2 L136.1,335.1 L136.6,333.9 L137.2,332.7 L137.7,331.7 L138.2,330.8 L139.1,329.5 L139.9,328.6 L140.7,328.2 L141.9,328.5 L143.0,329.6 L143.6,330.6 L144.1,331.9 L144.6,333.5 L144.9,334.4 L145.1,335.5 L145.4,336.6 L145.7,337.7 L145.9,338.9 L146.2,340.0 L146.4,341.1 L146.7,342.2 L146.9,343.2 L147.1,344.3 L147.4,345.4 L147.6,346.5 L147.9,347.6 L148.1,348.7 L148.4,349.8 L148.6,350.9 L148.9,352.0 L149.2,353.0 L149.6,354.2 L149.9,355.4 L150.3,356.5 L150.7,357.6 L151.1,358.6 L151.7,360.0 L152.3,361.2 L153.0,362.4 L153.6,363.3 L154.3,364.3 L155.0,365.2 L155.8,366.1 L156.7,367.0 L157.6,367.8 L158.6,368.7 L159.6,369.5 L160.5,370.2 L161.4,370.9 L162.4,371.5 L163.3,372.1 L164.2,372.6 L165.5,373.1 L166.7,373.4 L168.0,373.7 L169.0,374.1 L170.0,374.6 L172.0,375.1 L172.8,375.2 L173.8,375.4 L174.9,375.6 L176.0,375.7 L177.2,375.9 L178.5,376.1 L179.8,376.2 L181.1,376.4 L182.5,376.5 L183.7,376.7 L185.0,376.8 L186.1,376.9 L187.3,377.0 L188.4,377.1 L189.5,377.2 L190.7,377.3 L191.8,377.3 L193.0,377.4 L194.1,377.5 L195.3,377.6 L196.5,377.6 L197.8,377.7 L199.0,377.8 L200.1,377.9 L201.2,377.9 L202.2,378.0 L203.3,378.1 L204.4,378.1 L205.6,378.2 L206.7,378.3 L207.8,378.3 L209.0,378.4 L210.2,378.5 L211.3,378.6 L212.5,378.6 L213.8,378.7 L215.0,378.8 L216.0,378.9 L217.0,379.0 L218.0,379.0 L219.1,379.1 L220.1,379.2 L221.1,379.3 L222.1,379.4 L223.2,379.4 L224.2,379.5 L225.3,379.6 L226.4,379.7 L227.6,379.8 L228.8,379.9 L230.0,380.0 L231.3,380.1 L232.6,380.2 L234.0,380.3 L235.0,380.4 L236.0,380.4 L237.1,380.5 L238.2,380.6 L239.4,380.7 L240.6,380.8 L241.9,380.8 L243.1,380.9 L244.4,381.0 L245.7,381.1 L247.1,381.2 L248.4,381.3 L249.7,381.3 L251.0,381.4 L252.3,381.5 L253.5,381.6 L254.7,381.7 L255.9,381.7 L257.0,381.8 L258.1,381.9 L259.1,381.9 L260.0,382.0 L260.9,382.1 L261.7,382.1 L262.4,382.2 L263.0,382.2" fill="none" stroke="#202020" stroke-width="1.3" stroke-linejoin="round" stroke-linecap="round"/>
<path d="M44.6,287.0 L46.0,287.5 L46.4,286.9 L46.9,285.9 L47.4,284.8 L47.9,283.5 L48.4,282.0 L48.7,281.1 L48.9,280.1 L49.2,279.0 L49.5,277.9 L49.7,276.7 L50.0,275.5 L50.3,274.3 L50.5,273.1 L50.8,272.0 L51.1,270.9 L51.3,269.8 L51.6,268.7 L51.9,267.6 L52.1,266.4 L52.4,265.3 L52.6,264.2 L52.9,263.1 L53.1,262.0 L53.3,260.9 L53.5,259.8 L53.8,258.7 L54.0,257.6 L54.2,256.5 L54.4,255.4 L54.6,254.3 L54.8,253.1 L55.0,252.0 L55.2,250.8 L55.5,249.6 L55.7,248.4 L56.0,247.1 L56.2,245.9 L56.4,244.7 L56.7,243.5 L56.9,242.5 L57.2,241.5 L57.7,239.9 L58.1,238.5 L58.6,237.3 L59.0,236.3 L59.5,235.5 L60.6,234.6 L61.7,234.6 L63.3,236.0 L63.7,237.0 L64.1,238.2 L64.5,239.6 L64.9,241.0 L65.2,242.1 L65.4,243.2 L65.6,244.3 L65.8,245.6 L66.0,247.0 L66.1,248.0 L66.3,249.0 L66.4,250.1 L66.5,251.2 L66.6,252.4 L66.7,253.6 L66.9,254.8 L67.0,256.0 L67.1,257.1 L67.3,258.1 L67.4,259.2 L67.5,260.3 L67.7,261.4 L67.8,262.5 L67.9,263.6 L68.1,264.8 L68.2,266.0 L68.3,267.1 L68.4,268.3 L68.6,269.5 L68.7,270.7 L68.8,271.9 L68.9,273.1 L69.0,274.3 L69.2,275.6 L69.3,276.8 L69.4,278.0 L69.5,279.2 L69.6,280.4 L69.7,281.6 L69.9,282.8 L70.0,284.0 L70.1,285.2 L70.2,286.4 L70.3,287.6 L70.4,288.8 L70.5,290.0 L70.6,291.2 L70.7,292.4 L70.8,293.6 L70.9,294.8 L71.0,296.1 L71.1,297.3 L71.2,298.5 L71.3,299.7 L71.4,300.8 L71.5,302.0 L71.6,303.1 L71.7,304.3 L71.8,305.4 L71.9,306.5 L72.0,307.6 L72.0,308.7 L72.1,309.8 L72.2,310.9 L72.3,311.9 L72.4,313.0 L72.5,314.1 L72.6,315.3 L72.7,316.4 L72.8,317.5 L72.9,318.5 L73.0,319.6 L73.2,320.7 L73.3,321.9 L73.4,323.0 L73.5,324.1 L73.6,325.2 L73.8,326.3 L73.9,327.4 L74.0,328.6 L74.1,329.7 L74.3,330.8 L74.4,331.9 L74.6,333.0 L74.7,334.0 L74.9,335.2 L75.1,336.5 L75.2,337.7 L75.4,338.8 L75.6,339.9 L75.8,341.0 L76.1,342.0 L76.3,343.0 L76.7,344.4 L77.2,345.8 L77.7,346.9 L78.2,348.0 L78.8,349.0 L79.5,350.0 L80.2,350.9 L81.0,351.7 L82.0,352.2 L82.9,352.8 L84.0,353.1 L85.1,353.2 L86.4,353.4 L87.8,353.7 L88.8,353.7 L89.8,353.6 L90.9,353.6 L92.1,353.8 L93.3,353.8 L94.5,353.5 L95.8,353.8 L97.1,353.9 L98.2,353.9 L99.3,353.8 L100.6,353.5 L101.8,353.7 L103.0,353.5 L104.3,353.6 L105.5,353.7 L106.7,353.9 L107.8,354.1 L108.8,354.1 L110.2,354.0 L111.5,354.4 L112.7,354.4 L113.8,354.6 L114.9,354.6 L115.8,354.9 L116.7,354.9 L118.2,355.3 L119.3,355.3 L120.4,355.2 L121.6,354.8 L122.8,354.2 L124.0,353.5 L125.0,353.0 L126.0,352.5 L127.0,351.9 L128.1,351.3 L129.0,350.7 L129.9,350.2 L130.8,349.5 L131.8,348.8 L132.7,348.1 L133.7,347.2 L134.6,346.2 L135.6,345.2 L136.5,344.3 L137.3,343.5 L138.4,342.5 L139.2,341.9 L140.0,341.5 L141.9,342.2 L142.8,342.8 L143.6,343.8 L144.1,344.7 L144.5,345.8 L145.0,347.0 L145.5,348.3 L145.9,349.4 L146.3,350.5 L146.6,351.7 L147.0,352.8 L147.4,353.9 L147.8,355.1 L148.2,356.3 L148.7,357.4 L149.2,358.6 L149.7,359.5 L150.2,360.5 L150.8,361.4 L151.5,362.4 L152.1,363.3 L152.8,364.3 L153.5,365.2 L154.2,366.2 L155.0,367.1 L155.8,368.0 L156.7,368.9 L157.7,369.7 L158.7,370.6 L159.6,371.3 L160.5,372.0 L161.7,372.9 L162.8,373.6 L164.0,374.2 L165.3,374.7 L166.6,375.0 L168.0,375.4 L169.0,375.9 L170.0,376.3 L172.0,376.9 L172.8,377.1 L173.8,377.3 L174.9,377.5 L176.0,377.7 L177.2,377.9 L178.5,378.1 L179.8,378.3 L181.1,378.5 L182.5,378.7 L183.7,378.9 L185.0,379.1 L186.1,379.2 L187.3,379.4 L188.4,379.5 L189.5,379.6 L190.7,379.7 L191.8,379.8 L193.0,379.9 L194.1,380.0 L195.3,380.1 L196.5,380.2 L197.8,380.3 L199.0,380.4 L200.1,380.5 L201.2,380.6 L202.2,380.6 L203.3,380.7 L204.4,380.8 L205.6,380.9 L206.7,381.0 L207.8,381.0 L209.0,381.1 L210.2,381.2 L211.3,381.3 L212.5,381.4 L213.8,381.5 L215.0,381.6 L216.0,381.7 L217.0,381.8 L218.0,381.9 L219.1,382.0 L220.1,382.2 L221.1,382.3 L222.1,382.4 L223.2,382.6 L224.2,382.7 L225.3,382.8 L226.4,383.0 L227.6,383.1 L228.8,383.2 L230.0,383.3 L231.3,383.4 L232.6,383.5 L234.0,383.6 L235.0,383.7 L236.0,383.7 L237.1,383.8 L238.2,383.8 L239.4,383.8 L240.6,383.9 L241.9,383.9 L243.1,384.0 L244.4,384.0 L245.7,384.0 L247.1,384.1 L248.4,384.1 L249.7,384.1 L251.0,384.2 L252.3,384.2 L253.5,384.2 L254.7,384.2 L255.9,384.3 L257.0,384.3 L258.1,384.3 L259.1,384.3 L260.0,384.3 L260.9,384.4 L261.7,384.4 L262.4,384.4 L263.0,384.4" fill="none" stroke="#202020" stroke-width="1.3" stroke-linejoin="round" stroke-linecap="round"/>
<path d="M44.6,292.5 L45.5,291.9 L46.4,290.8 L47.3,289.3 L47.7,288.4 L48.0,287.5 L48.4,285.8 L48.6,285.0 L48.8,284.0 L49.1,283.0 L49.4,281.9 L49.7,280.7 L50.0,279.5 L50.2,278.3 L50.5,277.1 L50.8,276.0 L51.1,274.9 L51.3,273.8 L51.6,272.7 L51.9,271.6 L52.1,270.5 L52.4,269.3 L52.6,268.2 L52.9,267.1 L53.1,266.0 L53.3,264.9 L53.5,263.8 L53.8,262.6 L54.0,261.5 L54.2,260.4 L54.4,259.3 L54.6,258.2 L54.8,257.1 L55.0,256.0 L55.3,254.8 L55.5,253.6 L55.8,252.4 L56.1,251.2 L56.4,250.0 L56.6,248.9 L56.9,247.9 L57.2,247.0 L57.7,245.7 L58.1,244.5 L58.6,243.5 L59.0,242.7 L59.5,242.0 L60.7,241.1 L61.9,241.0 L63.5,242.5 L63.9,243.4 L64.3,244.5 L64.6,245.7 L65.0,247.0 L65.3,248.1 L65.5,249.2 L65.7,250.4 L66.0,251.6 L66.2,253.0 L66.4,254.0 L66.5,255.1 L66.6,256.2 L66.8,257.4 L66.9,258.6 L67.0,259.8 L67.2,261.0 L67.3,262.1 L67.5,263.1 L67.6,264.2 L67.8,265.3 L67.9,266.4 L68.1,267.6 L68.2,268.8 L68.4,270.0 L68.5,271.0 L68.6,272.1 L68.8,273.2 L68.9,274.3 L69.0,275.4 L69.1,276.5 L69.2,277.6 L69.4,278.8 L69.5,279.9 L69.6,281.0 L69.7,282.1 L69.8,283.2 L69.9,284.3 L70.1,285.4 L70.2,286.5 L70.3,287.6 L70.4,288.7 L70.5,289.8 L70.6,290.9 L70.7,292.0 L70.8,293.1 L70.9,294.2 L71.0,295.3 L71.1,296.4 L71.2,297.5 L71.3,298.6 L71.4,299.7 L71.5,300.8 L71.6,301.9 L71.7,303.0 L71.8,304.1 L71.9,305.2 L72.0,306.3 L72.1,307.4 L72.2,308.6 L72.2,309.7 L72.3,310.8 L72.4,311.9 L72.5,312.9 L72.6,314.0 L72.7,315.1 L72.8,316.3 L72.9,317.4 L73.0,318.5 L73.1,319.5 L73.2,320.6 L73.4,321.7 L73.5,322.9 L73.6,324.0 L73.7,325.1 L73.8,326.1 L74.0,327.3 L74.1,328.4 L74.2,329.5 L74.3,330.6 L74.5,331.7 L74.6,332.8 L74.8,333.9 L74.9,335.0 L75.1,336.2 L75.2,337.4 L75.4,338.6 L75.6,339.8 L75.8,341.0 L76.0,342.2 L76.2,343.2 L76.4,344.3 L76.6,345.2 L77.0,346.7 L77.5,347.9 L78.0,349.1 L78.5,350.1 L79.0,351.0 L79.7,352.1 L80.3,353.1 L81.1,353.9 L82.0,354.6 L83.0,355.1 L84.1,355.2 L85.4,355.5 L87.0,355.7 L87.9,356.3 L88.9,356.3 L90.0,356.5 L91.2,356.0 L92.4,356.5 L93.6,356.4 L94.8,356.6 L95.9,356.4 L97.0,356.8 L98.3,356.2 L99.4,356.5 L100.6,356.6 L101.7,356.6 L102.8,356.5 L103.9,356.4 L105.0,356.5 L106.1,356.6 L107.3,356.3 L108.5,356.6 L109.7,356.9 L110.8,356.9 L111.8,356.8 L112.7,357.1 L114.3,357.3 L115.4,357.2 L116.5,357.3 L117.8,357.0 L119.1,356.8 L120.4,356.5 L121.6,355.8 L122.8,355.7 L124.0,355.5 L125.3,355.1 L126.6,354.7 L128.1,354.1 L129.2,354.1 L130.5,353.6 L131.8,353.2 L133.0,353.1 L134.2,352.6 L135.5,352.5 L136.7,352.3 L137.8,352.2 L138.8,352.1 L140.4,352.2 L141.7,352.6 L142.7,353.6 L143.6,354.9 L144.2,355.7 L144.8,356.6 L145.5,357.7 L146.1,358.7 L146.8,359.9 L147.5,361.1 L148.3,362.4 L148.9,363.3 L149.5,364.2 L150.1,365.2 L150.7,366.2 L151.4,367.1 L152.1,368.0 L153.0,369.0 L153.8,370.0 L154.7,370.9 L155.7,371.8 L156.7,372.7 L157.6,373.4 L158.5,374.1 L159.5,374.8 L160.5,375.4 L161.4,376.0 L162.4,376.5 L163.6,377.0 L164.7,377.4 L165.9,377.7 L167.0,377.9 L168.0,378.2 L169.1,378.6 L170.1,378.9 L172.0,379.3 L172.8,379.4 L173.8,379.6 L174.9,379.8 L176.0,380.0 L177.2,380.2 L178.5,380.4 L179.8,380.5 L181.1,380.7 L182.5,380.9 L183.7,381.1 L185.0,381.2 L186.1,381.3 L187.3,381.4 L188.4,381.5 L189.5,381.6 L190.7,381.7 L191.8,381.7 L193.0,381.8 L194.1,381.9 L195.3,382.0 L196.5,382.0 L197.8,382.1 L199.0,382.2 L200.1,382.3 L201.2,382.4 L202.2,382.4 L203.3,382.5 L204.4,382.6 L205.6,382.7 L206.7,382.8 L207.8,382.8 L209.0,382.9 L210.2,383.0 L211.3,383.1 L212.5,383.2 L213.8,383.3 L215.0,383.4 L216.0,383.5 L217.0,383.6 L218.0,383.7 L219.1,383.8 L220.1,383.9 L221.1,383.9 L222.1,384.0 L223.2,384.1 L224.2,384.2 L225.3,384.3 L226.4,384.4 L227.6,384.5 L228.8,384.6 L230.0,384.7 L231.3,384.8 L232.6,384.9 L234.0,385.0 L235.0,385.1 L236.0,385.1 L237.1,385.2 L238.2,385.2 L239.4,385.3 L240.6,385.3 L241.9,385.4 L243.1,385.5 L244.4,385.5 L245.7,385.6 L247.1,385.6 L248.4,385.7 L249.7,385.8 L251.0,385.8 L252.3,385.9 L253.5,385.9 L254.7,386.0 L255.9,386.0 L257.0,386.1 L258.1,386.1 L259.1,386.1 L260.0,386.2 L260.9,386.2 L261.7,386.2 L262.4,386.3 L263.0,386.3" fill="none" stroke="#202020" stroke-width="1.3" stroke-linejoin="round" stroke-linecap="round"/>
<path d="M298.3,262.9 C298.5,263.6 299.1,266.0 299.5,267.0 C299.9,268.0 300.4,269.0 300.8,269.1 C301.2,269.2 301.6,268.2 302.0,267.6 C302.4,267.0 302.4,266.8 303.0,265.3 C303.6,263.8 304.6,261.2 305.4,258.8 C306.2,256.4 306.9,253.6 307.7,251.0 C308.5,248.4 309.2,245.7 310.0,243.0 C310.8,240.3 311.7,237.0 312.4,234.8 C313.1,232.6 313.7,230.4 314.4,229.8 C315.1,229.2 315.9,230.2 316.5,231.1 C317.1,232.0 317.7,233.2 318.2,235.0 C318.7,236.8 319.0,239.9 319.4,242.2 C319.8,244.5 320.0,245.8 320.3,249.0 C320.6,252.2 320.8,257.6 321.2,261.7 C321.6,265.8 322.2,269.5 322.7,273.4 C323.2,277.3 323.7,281.5 324.1,285.1 C324.5,288.7 325.0,291.8 325.3,295.0 C325.6,298.2 325.7,301.3 326.0,304.4 C326.3,307.5 326.6,310.8 327.0,313.7 C327.4,316.6 327.9,319.3 328.4,321.9 C328.9,324.4 329.4,327.1 330.0,329.0 C330.6,330.9 331.0,332.4 331.7,333.6 C332.4,334.8 333.2,335.5 334.1,336.0 C335.0,336.5 336.0,336.7 337.0,336.6 C338.0,336.5 338.8,336.1 339.9,335.4 C341.0,334.7 342.2,333.6 343.4,332.5 C344.6,331.4 345.7,330.1 346.9,328.7 C348.1,327.4 349.1,326.1 350.4,324.2 C351.7,322.2 353.3,319.1 354.8,317.1 C356.3,315.1 358.0,313.4 359.6,312.1 C361.2,310.8 362.8,309.9 364.4,309.1 C366.0,308.3 367.9,307.7 369.2,307.3 C370.5,306.9 371.1,307.0 372.0,307.0 C372.9,307.0 373.8,307.2 374.6,307.1 C375.4,307.0 376.2,306.7 377.0,306.2 C377.8,305.7 378.4,305.1 379.5,304.2 C380.6,303.3 382.2,301.7 383.7,300.8 C385.1,299.9 387.0,299.0 388.2,298.6 C389.4,298.2 390.0,298.1 390.8,298.3 C391.6,298.5 392.3,299.2 392.9,299.9 C393.5,300.6 394.0,301.3 394.5,302.5 C395.0,303.7 395.5,305.3 396.0,307.0 C396.5,308.7 397.1,310.7 397.6,312.5 C398.1,314.3 398.6,316.1 399.2,318.0 C399.8,319.9 400.2,321.4 400.9,324.0 C401.6,326.6 402.5,330.2 403.4,333.7 C404.3,337.2 405.1,341.3 406.2,344.9 C407.3,348.4 408.8,352.2 410.0,355.0 C411.2,357.8 412.1,359.8 413.7,361.8 C415.2,363.8 417.1,365.5 419.3,367.2 C421.5,368.9 424.0,370.7 426.8,371.9 C429.6,373.1 433.1,373.9 436.2,374.6 C439.3,375.3 441.9,375.5 445.6,375.9 C449.3,376.3 454.8,376.6 458.5,376.9 C462.2,377.2 464.6,377.4 467.7,377.7 C470.8,378.0 474.3,378.2 476.9,378.5 C479.5,378.8 481.1,379.2 483.1,379.5 C485.2,379.8 486.6,380.2 489.2,380.5 C491.8,380.8 495.4,380.9 498.5,381.2 C501.6,381.4 504.9,381.8 507.7,382.0 C510.5,382.2 514.1,382.4 515.4,382.5" fill="none" stroke="#202020" stroke-width="1.15" stroke-linejoin="round" stroke-linecap="round"/>
<path d="M298.3,262.9 C298.5,263.6 299.1,266.0 299.5,267.0 C299.9,268.0 300.4,269.0 300.8,269.1 C301.2,269.2 301.6,268.2 302.0,267.6 C302.4,267.0 302.4,266.8 303.0,265.3 C303.6,263.8 304.6,261.1 305.4,258.8 C306.2,256.5 306.9,253.7 307.7,251.4 C308.5,249.0 309.2,247.0 310.0,244.8 C310.8,242.6 311.7,239.8 312.4,238.1 C313.1,236.3 313.7,234.9 314.4,234.3 C315.1,233.7 315.9,234.0 316.5,234.5 C317.1,235.0 317.7,235.8 318.2,237.4 C318.7,238.9 319.0,241.9 319.4,243.9 C319.8,245.8 320.0,246.0 320.3,249.0 C320.6,252.0 320.8,257.6 321.2,261.7 C321.6,265.8 322.2,269.5 322.7,273.4 C323.2,277.3 323.7,281.5 324.1,285.1 C324.5,288.7 325.0,291.8 325.3,295.0 C325.6,298.2 325.7,301.3 326.0,304.4 C326.3,307.5 326.6,310.8 327.0,313.7 C327.4,316.6 327.9,319.3 328.4,321.9 C328.9,324.4 329.4,327.1 330.0,329.0 C330.6,330.9 331.0,332.4 331.7,333.6 C332.4,334.8 333.2,335.5 334.1,336.0 C335.0,336.5 336.0,336.7 337.0,336.6 C338.0,336.5 338.8,336.1 339.9,335.4 C341.0,334.7 342.2,333.5 343.4,332.5 C344.6,331.5 345.7,330.4 346.9,329.2 C348.1,328.1 349.1,327.2 350.4,325.6 C351.7,323.9 353.3,321.1 354.8,319.2 C356.3,317.3 358.0,315.5 359.6,314.2 C361.2,312.9 362.8,312.0 364.4,311.2 C366.0,310.4 367.9,309.8 369.2,309.4 C370.5,309.0 371.1,309.1 372.0,309.1 C372.9,309.1 373.8,309.3 374.6,309.2 C375.4,309.1 376.2,308.8 377.0,308.3 C377.8,307.8 378.4,307.2 379.5,306.3 C380.6,305.4 382.2,303.8 383.7,302.9 C385.1,302.0 387.0,301.1 388.2,300.7 C389.4,300.3 390.0,300.4 390.8,300.4 C391.6,300.4 392.3,300.3 392.9,300.7 C393.5,301.0 394.0,301.4 394.5,302.5 C395.0,303.6 395.5,305.3 396.0,307.0 C396.5,308.7 397.1,310.7 397.6,312.5 C398.1,314.3 398.6,316.1 399.2,318.0 C399.8,319.9 400.2,321.4 400.9,324.0 C401.6,326.6 402.5,330.2 403.4,333.7 C404.3,337.2 405.1,341.3 406.2,344.9 C407.3,348.4 408.8,352.2 410.0,355.0 C411.2,357.8 412.1,359.8 413.7,361.8 C415.2,363.8 417.1,365.5 419.3,367.2 C421.5,368.9 424.0,370.7 426.8,371.9 C429.6,373.1 433.1,373.9 436.2,374.6 C439.3,375.3 441.9,375.5 445.6,375.9 C449.3,376.3 454.8,376.6 458.5,376.9 C462.2,377.2 464.6,377.4 467.7,377.7 C470.8,378.0 474.3,378.2 476.9,378.5 C479.5,378.8 481.1,379.2 483.1,379.5 C485.2,379.8 486.6,380.2 489.2,380.5 C491.8,380.8 495.4,380.9 498.5,381.2 C501.6,381.4 504.9,381.8 507.7,382.0 C510.5,382.2 514.1,382.4 515.4,382.5" fill="none" stroke="#202020" stroke-width="1.15" stroke-linejoin="round" stroke-linecap="round"/>
<path d="M298.3,262.9 C298.5,263.6 299.1,266.0 299.5,267.0 C299.9,268.0 300.4,269.0 300.8,269.1 C301.2,269.2 301.6,268.2 302.0,267.6 C302.4,267.0 302.4,266.8 303.0,265.3 C303.6,263.8 304.6,261.1 305.4,258.8 C306.2,256.5 306.9,253.7 307.7,251.4 C308.5,249.1 309.2,247.2 310.0,245.1 C310.8,243.0 311.7,240.3 312.4,238.6 C313.1,236.9 313.7,235.6 314.4,235.1 C315.1,234.5 315.9,234.7 316.5,235.1 C317.1,235.6 317.7,236.3 318.2,237.8 C318.7,239.3 319.0,242.3 319.4,244.1 C319.8,246.0 320.0,246.1 320.3,249.0 C320.6,251.9 320.8,257.6 321.2,261.7 C321.6,265.8 322.2,269.5 322.7,273.4 C323.2,277.3 323.7,281.5 324.1,285.1 C324.5,288.7 325.0,291.8 325.3,295.0 C325.6,298.2 325.7,301.3 326.0,304.4 C326.3,307.5 326.6,310.8 327.0,313.7 C327.4,316.6 327.9,319.3 328.4,321.9 C328.9,324.4 329.4,327.1 330.0,329.0 C330.6,330.9 331.0,332.4 331.7,333.6 C332.4,334.8 333.2,335.5 334.1,336.0 C335.0,336.5 336.0,336.7 337.0,336.6 C338.0,336.5 338.8,336.1 339.9,335.4 C341.0,334.7 342.2,333.5 343.4,332.5 C344.6,331.5 345.7,330.4 346.9,329.3 C348.1,328.2 349.1,327.4 350.4,325.8 C351.7,324.1 353.3,321.4 354.8,319.5 C356.3,317.6 358.0,315.8 359.6,314.5 C361.2,313.2 362.8,312.3 364.4,311.5 C366.0,310.7 367.9,310.1 369.2,309.7 C370.5,309.3 371.1,309.4 372.0,309.4 C372.9,309.4 373.8,309.6 374.6,309.5 C375.4,309.4 376.2,309.1 377.0,308.6 C377.8,308.1 378.4,307.5 379.5,306.6 C380.6,305.7 382.2,304.1 383.7,303.2 C385.1,302.3 387.0,301.4 388.2,301.0 C389.4,300.6 390.0,300.7 390.8,300.7 C391.6,300.7 392.3,300.5 392.9,300.8 C393.5,301.1 394.0,301.5 394.5,302.5 C395.0,303.5 395.5,305.3 396.0,307.0 C396.5,308.7 397.1,310.7 397.6,312.5 C398.1,314.3 398.6,316.1 399.2,318.0 C399.8,319.9 400.2,321.4 400.9,324.0 C401.6,326.6 402.5,330.2 403.4,333.7 C404.3,337.2 405.1,341.3 406.2,344.9 C407.3,348.4 408.8,352.2 410.0,355.0 C411.2,357.8 412.1,359.8 413.7,361.8 C415.2,363.8 417.1,365.5 419.3,367.2 C421.5,368.9 424.0,370.7 426.8,371.9 C429.6,373.1 433.1,373.9 436.2,374.6 C439.3,375.3 441.9,375.5 445.6,375.9 C449.3,376.3 454.8,376.6 458.5,376.9 C462.2,377.2 464.6,377.4 467.7,377.7 C470.8,378.0 474.3,378.2 476.9,378.5 C479.5,378.8 481.1,379.2 483.1,379.5 C485.2,379.8 486.6,380.2 489.2,380.5 C491.8,380.8 495.4,380.9 498.5,381.2 C501.6,381.4 504.9,381.8 507.7,382.0 C510.5,382.2 514.1,382.4 515.4,382.5" fill="none" stroke="#202020" stroke-width="1.15" stroke-linejoin="round" stroke-linecap="round"/>
<line x1="140.5" y1="87.7" x2="168.7" y2="87.7" stroke="#5a5a5a" stroke-width="1.0"/>
<line x1="137.7" y1="110.4" x2="167.3" y2="110.4" stroke="#5a5a5a" stroke-width="1.0"/>
<line x1="138.4" y1="123.8" x2="167.7" y2="123.8" stroke="#5a5a5a" stroke-width="1.0"/>
<line x1="353.7" y1="155.8" x2="383.5" y2="142.3" stroke="#3a3a3a" stroke-width="0.9"/>
<line x1="405.4" y1="168.5" x2="434.6" y2="155.4" stroke="#3a3a3a" stroke-width="0.9"/>
<line x1="92.4" y1="343.7" x2="121.5" y2="330.2" stroke="#3a3a3a" stroke-width="0.9"/>
<line x1="142.3" y1="328.1" x2="172.2" y2="328.1" stroke="#5a5a5a" stroke-width="1.0"/>
<line x1="142.0" y1="342.0" x2="171.9" y2="342.0" stroke="#5a5a5a" stroke-width="1.0"/>
<line x1="142.0" y1="352.3" x2="171.4" y2="352.3" stroke="#5a5a5a" stroke-width="1.0"/>
<line x1="356.5" y1="279.2" x2="373.3" y2="305.0" stroke="#3a3a3a" stroke-width="0.9"/>
<line x1="392.9" y1="298.6" x2="420.9" y2="289.2" stroke="#3a3a3a" stroke-width="0.9"/>
<line x1="396.4" y1="301.6" x2="425.7" y2="301.2" stroke="#5a5a5a" stroke-width="1.0"/>
<text x="172.9" y="90.2" font-size="9" text-anchor="start" font-weight="normal" class="l">0 h</text>
<text x="171.5" y="113.4" font-size="9" text-anchor="start" font-weight="normal" class="l">20 h</text>
<text x="171.2" y="126.6" font-size="9" text-anchor="start" font-weight="normal" class="l">40 h</text>
<text x="386.2" y="143.0" font-size="9" text-anchor="start" font-weight="normal" class="l">5 h</text>
<text x="437.2" y="154.6" font-size="9" text-anchor="start" font-weight="normal" class="l">0 h</text>
<text x="120.8" y="325.8" font-size="9" text-anchor="start" font-weight="normal" class="l">40 h</text>
<text x="177.3" y="331.2" font-size="9" text-anchor="start" font-weight="normal" class="l">0 h</text>
<text x="178.7" y="344.5" font-size="9" text-anchor="start" font-weight="normal" class="l">3 h</text>
<text x="174.9" y="355.1" font-size="9" text-anchor="start" font-weight="normal" class="l">20 h</text>
<text x="347.9" y="274.6" font-size="9" text-anchor="start" font-weight="normal" class="l">0 h</text>
<text x="426.2" y="288.9" font-size="9" text-anchor="start" font-weight="normal" class="l">20 h</text>
<text x="426.9" y="303.8" font-size="9" text-anchor="start" font-weight="normal" class="l">40 h</text>
</svg></body></html>
